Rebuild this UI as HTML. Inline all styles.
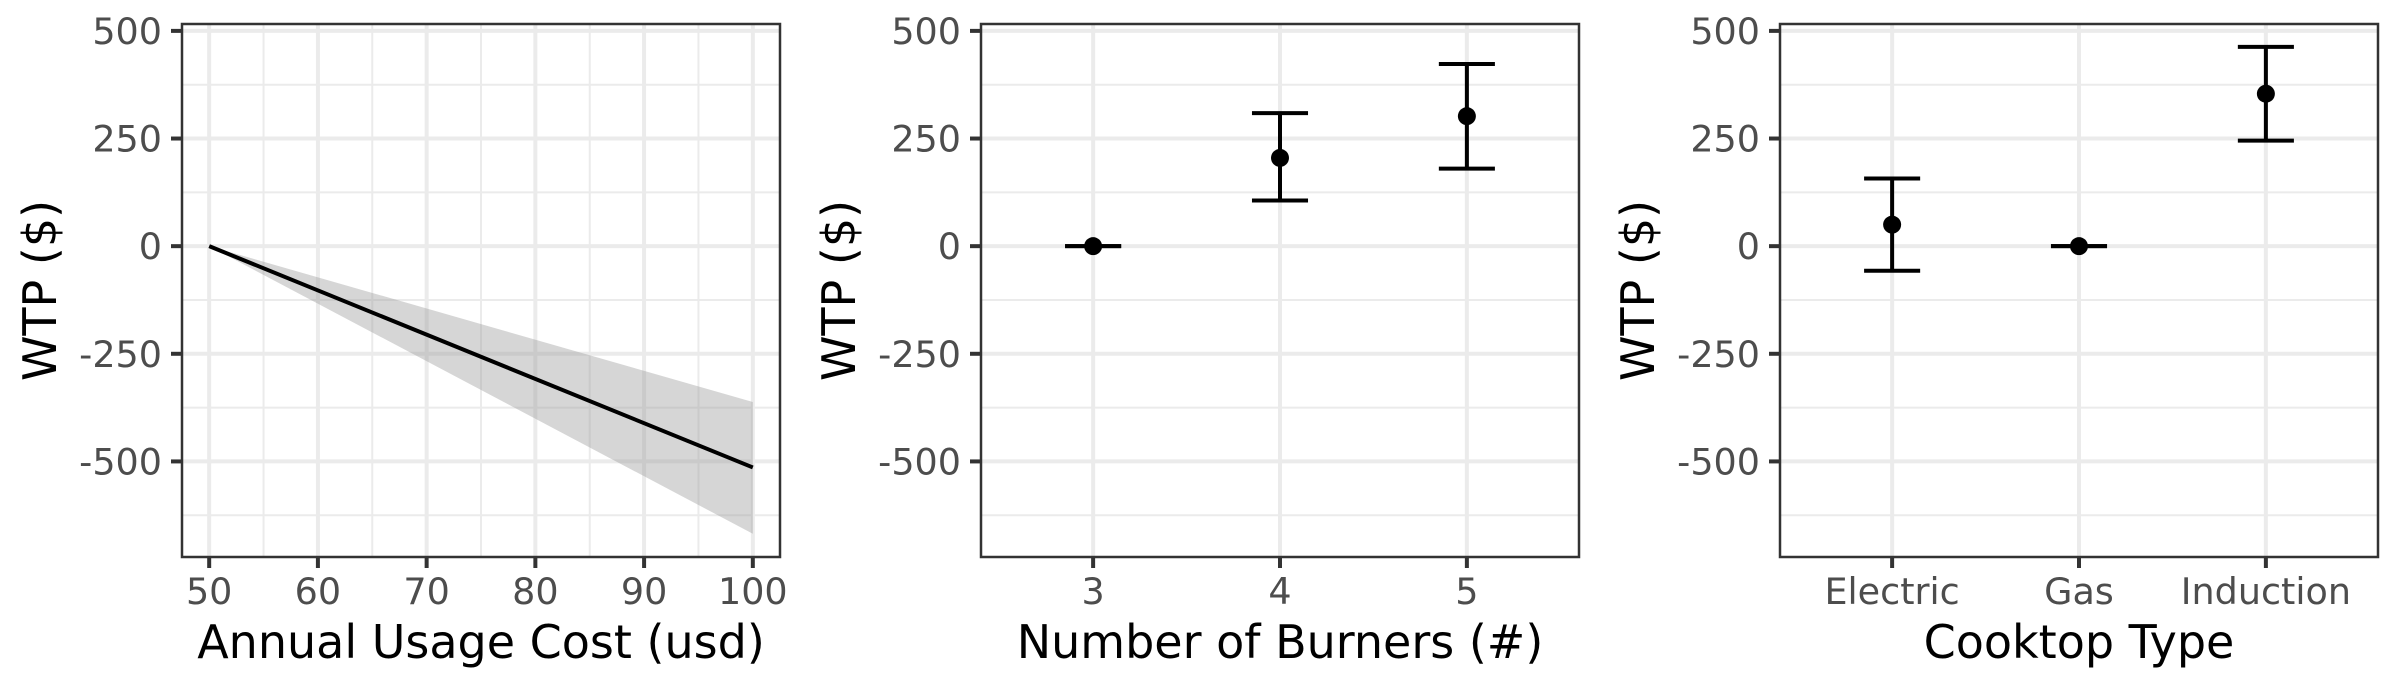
<!DOCTYPE html>
<html><head><meta charset="utf-8"><style>
html,body{margin:0;padding:0;background:#fff;}
svg{display:block;font-family:"DejaVu Sans","Liberation Sans",sans-serif;}
</style></head><body>
<svg id="chart" width="2400" height="690" viewBox="0 0 2400 690" xmlns="http://www.w3.org/2000/svg"></svg>
<script>
// Shared y axis
const yTicks = [500, 250, 0, -250, -500];
const yTickLabels = ["500", "250", "0", "-250", "-500"];
const yMinor = [375, 125, -125, -375, -625];
const yDomain = [-722, 516];

// Panel 1: Annual Usage Cost
const costTicks = [50, 60, 70, 80, 90, 100];
const costMinor = [55, 65, 75, 85, 95];
const costX = [50, 100];
const costFit = [0, -514];
const costLower = [0, -668];
const costUpper = [0, -362];

// Panel 2: Number of Burners
const burnerCats = ["3", "4", "5"];
const burnerVals = [0, 205, 302];
const burnerLow = [0, 106, 180];
const burnerHigh = [0, 309, 423];

// Panel 3: Cooktop Type
const cookCats = ["Electric", "Gas", "Induction"];
const cookVals = [50, 0, 354];
const cookLow = [-57, 0, 245];
const cookHigh = [157, 0, 463];

const NS = "http://www.w3.org/2000/svg";
const svg = document.getElementById("chart");
const TOP = 24, BOT = 557;
const TICKFS = 36.5, TITLEFS = 46;
function yScale(v){ return BOT - (v - yDomain[0]) / (yDomain[1] - yDomain[0]) * (BOT - TOP); }
function mk(tag, attrs, parent){
  const e = document.createElementNS(NS, tag);
  for (const k in attrs) e.setAttribute(k, attrs[k]);
  (parent || svg).appendChild(e);
  return e;
}

function panel(idx, L, R, xTitle, xTickVals, xTickLabels, xMinorPos){
  const g = mk("g", {});
  
  
  yMinor.forEach(v => { mk("line", {x1:L, x2:R, y1:yScale(v), y2:yScale(v), stroke:"#ebebeb", "stroke-width":2}, g); });
  xMinorPos.forEach(x => { mk("line", {x1:x, x2:x, y1:TOP, y2:BOT, stroke:"#ebebeb", "stroke-width":2}, g); });
  yTicks.forEach(v => { mk("line", {x1:L, x2:R, y1:yScale(v), y2:yScale(v), stroke:"#ebebeb", "stroke-width":4}, g); });
  xTickVals.forEach(x => { mk("line", {x1:x, x2:x, y1:TOP, y2:BOT, stroke:"#ebebeb", "stroke-width":4}, g); });
  yTicks.forEach((v, i) => {
    mk("line", {x1:L-11, x2:L, y1:yScale(v), y2:yScale(v), stroke:"#333", "stroke-width":4}, g);
    const t = mk("text", {x:L-20, y:yScale(v)+13, "text-anchor":"end", "font-size":TICKFS, fill:"#4d4d4d"}, g);
    t.textContent = yTickLabels[i];
    
    
  });
  xTickVals.forEach((x, i) => {
    mk("line", {x1:x, x2:x, y1:BOT, y2:BOT+11, stroke:"#333", "stroke-width":4}, g);
    const t = mk("text", {x:x, y:604, "text-anchor":"middle", "font-size":TICKFS, fill:"#4d4d4d"}, g);
    t.textContent = xTickLabels[i];
    
    
  });
  const yt = mk("text", {x:0, y:0, transform:"translate(" + (L-126) + "," + ((TOP+BOT)/2) + ") rotate(-90)", "text-anchor":"middle", "font-size":TITLEFS, fill:"#000"}, g);
  yt.textContent = "WTP ($)";
  
  
  const xt = mk("text", {x:(L+R)/2, y:658, "text-anchor":"middle", "font-size":TITLEFS, fill:"#000"}, g);
  xt.textContent = xTitle;
  
  
  return g;
}
function border(L, R){
  const b = mk("rect", {x:L, y:TOP, width:R-L, height:BOT-TOP, fill:"none", stroke:"#333", "stroke-width":2.5});
  
  
}

// Panel 1
const L1 = 182, R1 = 780;
function xCost(v){ return L1 + (v - 47.5) / 55 * (R1 - L1); }
const g1 = panel(1, L1, R1, "Annual Usage Cost (usd)", costTicks.map(xCost), costTicks.map(String), costMinor.map(xCost));
let pts = costX.map((x,i)=> xCost(x)+","+yScale(costUpper[i]));
pts = pts.concat(costX.slice().reverse().map((x,j)=>{ const i = costX.length-1-j; return xCost(x)+","+yScale(costLower[i]); }));
const band = mk("polygon", {points:pts.join(" "), fill:"#999", "fill-opacity":0.4}, g1);


const fit = mk("polyline", {points:costX.map((x,i)=>xCost(x)+","+yScale(costFit[i])).join(" "), fill:"none", stroke:"#000", "stroke-width":4}, g1);


border(L1, R1);

function discrete(idx, L, R, title, cats, vals, lo, hi){
  const n = cats.length;
  const xs = cats.map((c,i)=> L + (i + 0.6) / (n + 0.2) * (R - L));
  const step = (R - L) / (n + 0.2);
  const g = panel(idx, L, R, title, xs, cats, []);
  cats.forEach((c,i)=>{
    const x = xs[i], hw = step*0.15;
    const eb = mk("g", {}, g);
    
    
    mk("line", {x1:x, x2:x, y1:yScale(hi[i]), y2:yScale(lo[i]), stroke:"#000", "stroke-width":4}, eb);
    mk("line", {x1:x-hw, x2:x+hw, y1:yScale(hi[i]), y2:yScale(hi[i]), stroke:"#000", "stroke-width":4}, eb);
    mk("line", {x1:x-hw, x2:x+hw, y1:yScale(lo[i]), y2:yScale(lo[i]), stroke:"#000", "stroke-width":4}, eb);
    const p = mk("circle", {cx:x, cy:yScale(vals[i]), r:9, fill:"#000"}, g);
    
    
  });
  border(L, R);
}
discrete(2, 981, 1579, "Number of Burners (#)", burnerCats, burnerVals, burnerLow, burnerHigh);
discrete(3, 1780, 2378, "Cooktop Type", cookCats, cookVals, cookLow, cookHigh);
</script>
</body></html>
